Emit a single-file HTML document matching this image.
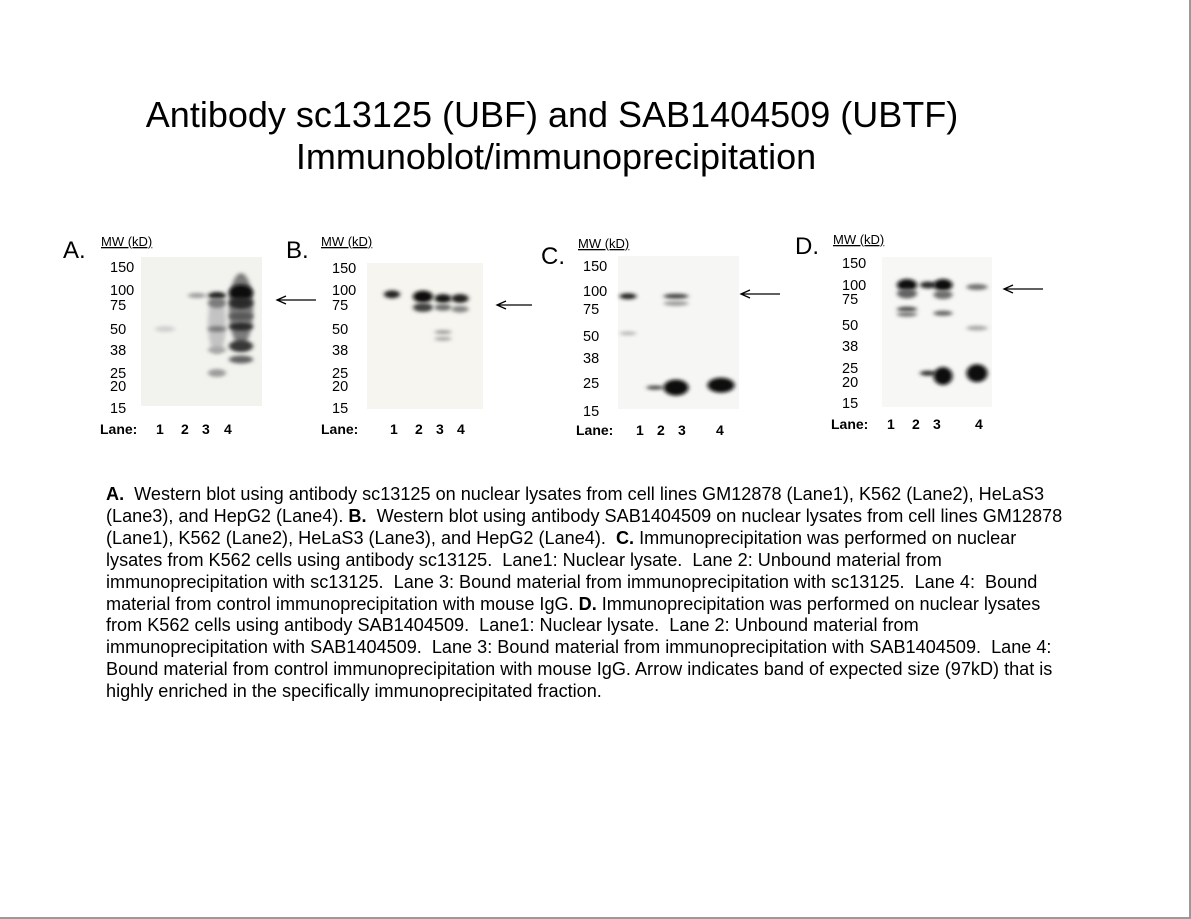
<!DOCTYPE html>
<html><head><meta charset="utf-8">
<style>
body{margin:0;width:1191px;height:919px;background:#fff;position:relative;overflow:hidden;font-family:"Liberation Sans",Arial,sans-serif;color:#000}
.t{position:absolute;white-space:nowrap}
.title{font-size:36px;text-align:center}
.cap{position:absolute;left:106px;top:484px;font-size:18.1px;line-height:21.9px;white-space:nowrap}
</style></head>
<body>
<div style="position:absolute;left:1189px;top:0;width:2px;height:919px;background:#9a9a9a"></div>
<div style="position:absolute;left:0;top:917px;width:1191px;height:2px;background:#9a9a9a"></div>
<div class="t title" style="top:94px;left:0;width:1104px">Antibody sc13125 (UBF) and SAB1404509 (UBTF)</div>
<div class="t title" style="top:136px;left:0;width:1112px">Immunoblot/immunoprecipitation</div>
<svg id="blots" width="1191" height="460" style="position:absolute;left:0;top:0">
<defs>
<filter id="b1" x="-50%" y="-200%" width="200%" height="500%"><feGaussianBlur stdDeviation="2.2 1.8"/></filter>
</defs>
</svg>
<div class="cap"><b>A.</b>&nbsp; Western blot using antibody sc13125 on nuclear lysates from cell lines GM12878 (Lane1), K562 (Lane2), HeLaS3<br>(Lane3), and HepG2 (Lane4). <b>B.</b>&nbsp; Western blot using antibody SAB1404509 on nuclear lysates from cell lines GM12878<br>(Lane1), K562 (Lane2), HeLaS3 (Lane3), and HepG2 (Lane4).&nbsp; <b>C.</b>&nbsp;Immunoprecipitation was performed on nuclear<br>lysates from K562 cells using antibody sc13125.&nbsp; Lane1: Nuclear lysate.&nbsp; Lane 2: Unbound material from<br>immunoprecipitation with sc13125.&nbsp; Lane 3: Bound material from immunoprecipitation with sc13125.&nbsp; Lane 4:&nbsp; Bound<br>material from control immunoprecipitation with mouse IgG. <b>D.</b> Immunoprecipitation was performed on nuclear lysates<br>from K562 cells using antibody SAB1404509.&nbsp; Lane1: Nuclear lysate.&nbsp; Lane 2: Unbound material from<br>immunoprecipitation with SAB1404509.&nbsp; Lane 3: Bound material from immunoprecipitation with SAB1404509.&nbsp; Lane 4:<br>Bound material from control immunoprecipitation with mouse IgG. Arrow indicates band of expected size (97kD) that is<br>highly enriched in the specifically immunoprecipitated fraction.</div>
<script>
const ladderMW=[150,100,75,50,38,25,20,15];
const ladderMWC=[150,100,75,50,38,25,15];
const panelLetters=["A.","B.","C.","D."];
// band data: [lane index (1-4), MW kD, intensity 0-1, height px]
const bandsA=[[1,50,0.12,4],[2,90,0.35,3],[3,55,0.18,60],[3,90,0.9,5],[3,78,0.5,8],[3,50,0.5,4],[3,38,0.3,5],[3,25,0.35,6],[4,70,0.5,70],[4,95,1,14],[4,78,0.85,10],[4,52,0.85,6],[4,40,0.8,10],[4,32,0.6,6],[4,62,0.65,6]];
const bandsB=[[1,92,0.9,6],[2,88,1,10],[2,72,0.75,7],[3,85,0.95,7],[3,72,0.55,5],[3,48,0.35,2],[3,44,0.3,2],[4,85,0.9,7],[4,70,0.45,5]];
const bandsC=[[1,92,0.9,4],[1,52,0.25,1.5],[2,23,0.75,2],[3,92,0.75,3],[3,82,0.35,3],[3,23,1,14],[4,24,1,13]];
const bandsD=[[1,100,1,10],[1,84,0.6,8],[1,64,0.7,3],[1,59,0.5,3],[2,100,0.85,5],[2,23,0.85,3],[3,100,1,10],[3,82,0.55,7],[3,60,0.6,3],[3,22,1,16],[4,96,0.55,4],[4,48,0.3,3],[4,23,1,16]];
const panels=[
 {bands:bandsA,mw:ladderMW,box:[141,257,262,406],lanes:[165,197,217,241],bw:[20,18,18,24],ladderY:[267,290,305,329,350,373,386,408],lblX:110,letter:[63,234],mwX:101,mwY:234,laneLbl:[100,424],laneNums:[156,181,202,224],arrow:[277,316,300],bg:"#f2f2ee"},
 {bands:bandsB,mw:ladderMW,box:[367,263,483,409],lanes:[392,423,443,460],bw:[16,20,17,17],ladderY:[268,290,305,329,350,373,386,408],lblX:332,letter:[286,234],mwX:321,mwY:234,laneLbl:[321,424],laneNums:[390,415,436,457],arrow:[497,532,305],bg:"#f6f5ef"},
 {bands:bandsC,mw:ladderMWC,box:[618,256,739,409],lanes:[628,655,676,721],bw:[17,17,25,27],ladderY:[266,291,309,336,358,383,411],lblX:583,letter:[541,240],mwX:578,mwY:236,laneLbl:[576,425],laneNums:[636,657,678,716],arrow:[741,780,294],bg:"#f6f6f4"},
 {bands:bandsD,mw:ladderMW,box:[882,257,992,407],lanes:[907,928,943,977],bw:[20,16,19,21],ladderY:[263,285,299,325,346,368,382,403],lblX:842,letter:[795,230],mwX:833,mwY:232,laneLbl:[831,419],laneNums:[887,912,933,975],arrow:[1004,1043,289],bg:"#f7f7f5"}
];
const svg=document.getElementById('blots');
const NS="http://www.w3.org/2000/svg";
function mk(tag,attrs){const e=document.createElementNS(NS,tag);for(const k in attrs)e.setAttribute(k,attrs[k]);svg.appendChild(e);return e;}
function yScale(p,mw){
 const L=p.mw,Y=p.ladderY;
 for(let i=0;i<L.length-1;i++){if(mw<=L[i]&&mw>=L[i+1]){const t=(Math.log(L[i])-Math.log(mw))/(Math.log(L[i])-Math.log(L[i+1]));return Y[i]+t*(Y[i+1]-Y[i]);}}
 return mw>L[0]?Y[0]:Y[Y.length-1];
}
panels.forEach((p,pi)=>{
 const [x0,y0,x1,y1]=p.box;
 const r=mk('rect',{x:x0,y:y0,width:x1-x0,height:y1-y0,fill:p.bg});
 
 
 const lt=mk('text',{x:p.letter[0],y:p.letter[1]+24,'font-size':24,'font-family':'Liberation Sans, sans-serif'});
 lt.textContent=panelLetters[pi];
 
 
 const mw=mk('text',{x:p.mwX,y:p.mwY+12,'font-size':13,'text-decoration':'underline','font-family':'Liberation Sans, sans-serif'});
 mw.textContent='MW (kD)';
 
 
 p.mw.forEach((m,i)=>{
  const t=mk('text',{x:p.lblX,y:p.ladderY[i]+5,'font-size':14.5,'font-family':'Liberation Sans, sans-serif'});
  t.textContent=String(m);
  
  
 });
 p.bands.forEach(b=>{
  const cx=p.lanes[b[0]-1],w=p.bw[b[0]-1],cy=yScale(p,b[1]);
  const g=Math.round(235-225*b[2]);
  const e=mk('ellipse',{cx:cx,cy:cy,rx:w/2,ry:b[3]/2+1,fill:`rgb(${g},${g},${g})`,filter:'url(#b1)'});
  
  
 });
 const ll=mk('text',{x:p.laneLbl[0],y:p.laneLbl[1]+10,'font-size':14,'font-weight':'bold','font-family':'Liberation Sans, sans-serif'});
 ll.textContent='Lane:';
 
 
 p.laneNums.forEach((x,i)=>{
  const t=mk('text',{x:x,y:p.laneLbl[1]+10,'font-size':14,'font-weight':'bold','font-family':'Liberation Sans, sans-serif'});
  t.textContent=String(i+1);
  
  
 });
 const [ax0,ax1,ay]=p.arrow;
 const a=mk('path',{d:`M${ax1} ${ay} L${ax0} ${ay} M${ax0+9} ${ay-4} L${ax0} ${ay} L${ax0+9} ${ay+4}`,stroke:'#000','stroke-width':1.3,fill:'none'});
 
 
});
</script>
</body></html>
